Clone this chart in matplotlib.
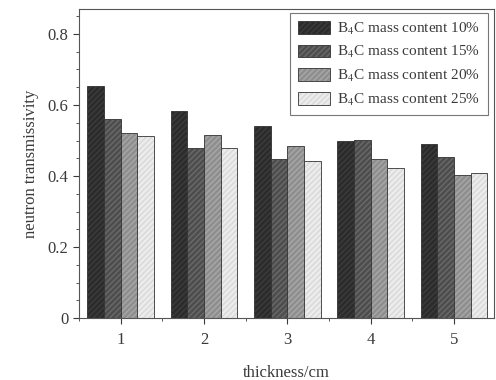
import matplotlib
matplotlib.use("Agg")
import matplotlib.pyplot as plt
from matplotlib.ticker import MultipleLocator
import numpy as np

plt.rcParams["font.family"] = ["Liberation Serif", "DejaVu Serif"]
plt.rcParams["mathtext.fontset"] = "stix"

thickness = [1, 2, 3, 4, 5]
series_labels = ["10%", "15%", "20%", "25%"]
trans_10 = [0.654, 0.583, 0.541, 0.499, 0.490]
trans_15 = [0.560, 0.478, 0.447, 0.501, 0.453]
trans_20 = [0.522, 0.515, 0.485, 0.448, 0.403]
trans_25 = [0.513, 0.478, 0.443, 0.422, 0.409]

series = [trans_10, trans_15, trans_20, trans_25]
colors = ["#2b2b2b", "#4d4d4d", "#8e8e8e", "#ececec"]
hatch_colors = ["#3c3c3c", "#6a6a6a", "#a8a8a8", "#d8d8d8"]
text_color = "#3a3a3a"

fig = plt.figure(figsize=(4.96, 3.8), dpi=100)
ax = fig.add_axes([0.159, 0.163, 0.837, 0.813])

x = np.array(thickness, dtype=float)
width = 0.2
for i, vals in enumerate(series):
    offset = (i - 1.5) * width
    bars = ax.bar(x + offset, vals, width, color=colors[i], edgecolor="#333333",
                  linewidth=0.6, hatch="//////",
                  label="B$_4$C mass content " + series_labels[i])
    for b in bars:
        b._hatch_color = matplotlib.colors.to_rgba(hatch_colors[i])

ax.set_xlim(0.5, 5.48)
ax.set_ylim(0, 0.87)
ax.set_yticks([0, 0.2, 0.4, 0.6, 0.8])
ax.set_yticklabels(["0", "0.2", "0.4", "0.6", "0.8"])
ax.yaxis.set_minor_locator(MultipleLocator(0.05))
ax.xaxis.set_minor_locator(MultipleLocator(0.5))
ax.set_xticks(thickness)

ax.tick_params(axis="both", which="major", direction="out", length=4,
               labelsize=12, colors=text_color, width=0.8)
ax.tick_params(axis="both", which="minor", direction="out", length=2.5,
               colors=text_color, width=0.6)
ax.tick_params(axis="x", pad=6)

for sp in ax.spines.values():
    sp.set_color("#555555")
    sp.set_linewidth(0.8)

ax.set_xlabel("thickness/cm", fontsize=12, color=text_color, labelpad=12)
ax.set_ylabel("neutron transmissivity", fontsize=12, color=text_color, labelpad=6)

leg = ax.legend(loc="upper right", fontsize=11, frameon=True, fancybox=False,
                edgecolor="#555555", handlelength=2.15, handleheight=0.9,
                labelspacing=0.5, borderpad=0.5, handletextpad=0.45,
                borderaxespad=0, bbox_to_anchor=(0.985, 0.988))
leg.get_frame().set_linewidth(0.8)
for t in leg.get_texts():
    t.set_color(text_color)

fig.savefig("out.png", dpi=100)
